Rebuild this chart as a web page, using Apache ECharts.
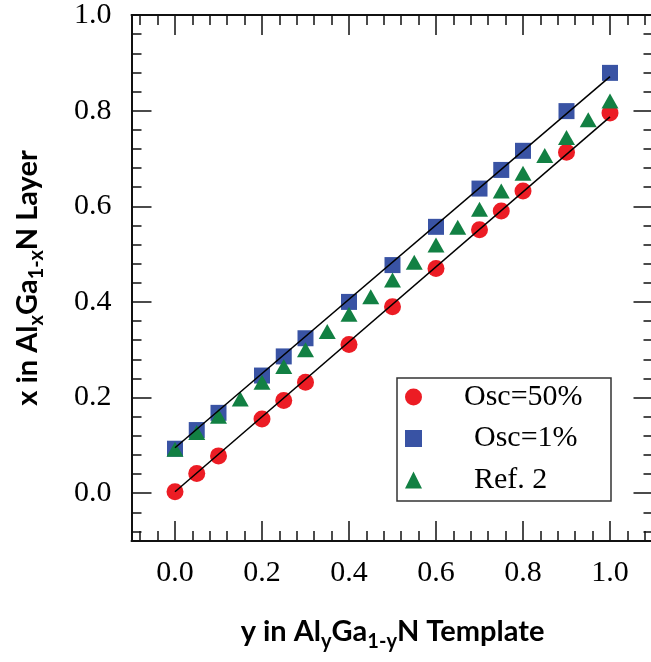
<!DOCTYPE html>
<html>
<head>
<meta charset="utf-8">
<script src="https://cdn.jsdelivr.net/npm/echarts@6/dist/echarts.min.js"></script>
<style>
  html, body { margin: 0; padding: 0; overflow: hidden; background: #fff; }
  #chart { width: 660px; height: 662px; }
</style>
</head>
<body>
<div id="chart"></div>
<script>
// Template composition y (x axis) for the two oscillation settings
const xOsc = [0, 0.05, 0.1, 0.2, 0.25, 0.3, 0.4, 0.5, 0.6, 0.7, 0.75, 0.8, 0.9, 1.0];
const yOsc50 = [0.003, 0.041, 0.078, 0.155, 0.194, 0.232, 0.311, 0.390, 0.470, 0.551, 0.590, 0.632, 0.713, 0.795];
const yOsc1 = [0.093, 0.132, 0.168, 0.246, 0.286, 0.324, 0.400, 0.477, 0.557, 0.637, 0.676, 0.716, 0.799, 0.879];

// Reference data set
const xRef = [0, 0.05, 0.1, 0.15, 0.2, 0.25, 0.3, 0.35, 0.4, 0.45, 0.5, 0.55, 0.6, 0.65, 0.7, 0.75, 0.8, 0.85, 0.9, 0.95, 1.0];
const yRef = [0.092, 0.127, 0.161, 0.197, 0.232, 0.265, 0.300, 0.338, 0.374, 0.411, 0.446, 0.483, 0.519, 0.556, 0.594, 0.632, 0.669, 0.706, 0.744, 0.781, 0.820];

// Straight-line fits (end points)
const fitLow = [[0, 0.003], [1.0, 0.787]];
const fitHigh = [[0, 0.095], [1.0, 0.871]];

// Tick positions
const xMajor = [0, 0.2, 0.4, 0.6, 0.8, 1.0];
const xMinor = [-0.08, -0.04, 0.04, 0.08, 0.12, 0.16, 0.24, 0.28, 0.32, 0.36, 0.44, 0.48, 0.52, 0.56,
                0.64, 0.68, 0.72, 0.76, 0.84, 0.88, 0.92, 0.96, 1.04, 1.08];
const yMajor = [0, 0.2, 0.4, 0.6, 0.8, 1.0];
const yMinor = [-0.08, -0.04, 0.04, 0.08, 0.12, 0.16, 0.24, 0.28, 0.32, 0.36, 0.44, 0.48, 0.52, 0.56,
                0.64, 0.68, 0.72, 0.76, 0.84, 0.88, 0.92, 0.96];

const SERIF = 'Liberation Serif, Times New Roman, serif';
const SANS = 'Lato, Open Sans, sans-serif';

function zip(xs, ys) { return xs.map((x, i) => [x, ys[i]]); }

function makeAxis(kind, position, ticks, tickLen, withLine, withLabel) {
  const isX = kind === 'x';
  return {
    type: 'value',
    position: position,
    min: -0.1,
    max: isX ? 1.1 : 1.0,
    axisLine: { show: withLine, onZero: false, lineStyle: { color: '#111', width: 2 } },
    axisTick: { show: true, inside: true, length: tickLen, customValues: ticks,
                lineStyle: { color: '#111', width: 1.5 } },
    axisLabel: withLabel ? {
      show: true, customValues: ticks,
      formatter: v => v.toFixed(1),
      fontFamily: SERIF, fontSize: 30, color: '#000',
      margin: isX ? 17 : 20
    } : { show: false },
    splitLine: { show: false },
    minorTick: { show: false }
  };
}

const xAxes = [
  makeAxis('x', 'bottom', xMajor, 20, true, true),
  makeAxis('x', 'bottom', xMinor, 10, false, false),
  makeAxis('x', 'top', xMajor, 20, true, false),
  makeAxis('x', 'top', xMinor, 10, false, false)
];
const yAxes = [
  makeAxis('y', 'left', yMajor, 20, true, true),
  makeAxis('y', 'left', yMinor, 10, false, false),
  makeAxis('y', 'right', yMajor, 20, true, false),
  makeAxis('y', 'right', yMinor, 10, false, false)
];

// Axis titles: bold sans with subscripted composition indices
const subStyle = { fontFamily: SANS, fontWeight: 'bold', fontSize: 20, color: '#000',
                   lineHeight: 20, padding: [19, 0, 0, 0] };
const mainStyle = { fontFamily: SANS, fontWeight: 'bold', fontSize: 29, color: '#000', lineHeight: 34 };

Object.assign(xAxes[0], {
  name: '{m|y in Al}{s|y}{m|Ga}{s|1-y}{m|N Template}',
  nameLocation: 'middle',
  nameGap: 74,
  nameTextStyle: { rich: { m: mainStyle, s: subStyle } }
});
Object.assign(yAxes[0], {
  name: '{m|x in Al}{s|x}{m|Ga}{s|1-x}{m|N Layer}',
  nameLocation: 'middle',
  nameRotate: 90,
  nameGap: 87,
  nameTextStyle: { rich: { m: mainStyle, s: subStyle } }
});

const option = {
  animation: false,
  backgroundColor: '#fff',
  grid: { left: 127.7, top: 15, right: 6.5, bottom: 121, containLabel: false },
  xAxis: xAxes,
  yAxis: yAxes,
  legend: {
    data: ['Osc=50%', 'Osc=1%', 'Ref. 2'],
    orient: 'vertical',
    left: 405,
    top: 382,
    padding: 0,
    itemWidth: 17,
    itemHeight: 17,
    itemGap: 11.5,
    selectedMode: false,
    formatter: name => (name === 'Osc=50%' ? '{a|' + name + '}' : '{b|' + name + '}'),
    textStyle: {
      fontFamily: SERIF, fontSize: 30, color: '#000',
      rich: {
        a: { fontFamily: SERIF, fontSize: 30, color: '#000', lineHeight: 30, padding: [0, 0, 0, 37] },
        b: { fontFamily: SERIF, fontSize: 30, color: '#000', lineHeight: 30, padding: [0, 0, 0, 47] }
      }
    }
  },
  graphic: [{
    type: 'rect',
    shape: { x: 397, y: 378, width: 214, height: 123 },
    style: { fill: 'none', stroke: '#333', lineWidth: 1.5 },
    z: 10
  }],
  series: [
    {
      name: 'Osc=50%', type: 'scatter', symbol: 'circle', symbolSize: 17,
      itemStyle: { color: '#ec1c24', opacity: 1 },
      data: zip(xOsc, yOsc50), z: 3
    },
    {
      name: 'Osc=1%', type: 'scatter', symbol: 'rect', symbolSize: 16,
      itemStyle: { color: '#3953a4', opacity: 1 },
      data: zip(xOsc, yOsc1), z: 3
    },
    {
      name: 'Ref. 2', type: 'scatter', symbol: 'triangle', symbolSize: [17, 15],
      itemStyle: { color: '#128043', opacity: 1 },
      data: zip(xRef, yRef), z: 3
    },
    {
      name: 'fit-low', type: 'line', data: fitLow, symbol: 'none', silent: true,
      lineStyle: { color: '#000', width: 1.5 }, z: 5
    },
    {
      name: 'fit-high', type: 'line', data: fitHigh, symbol: 'none', silent: true,
      lineStyle: { color: '#000', width: 1.5 }, z: 5
    }
  ]
};

const chart = echarts.init(document.getElementById('chart'), null, { renderer: 'canvas' });
chart.setOption(option);
</script>
</body>
</html>
